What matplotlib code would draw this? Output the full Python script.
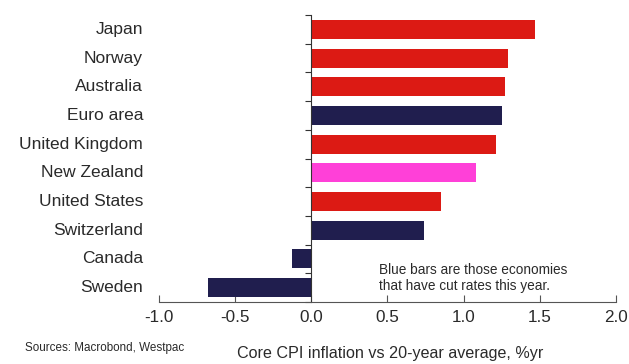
import matplotlib
matplotlib.use('Agg')
import matplotlib.pyplot as plt
import matplotlib.transforms as mtransforms
import numpy as np

plt.rcParams['font.family'] = ['Liberation Sans', 'DejaVu Sans']

countries = ['Japan', 'Norway', 'Australia', 'Euro area', 'United Kingdom',
             'New Zealand', 'United States', 'Switzerland', 'Canada', 'Sweden']
values = [1.47, 1.29, 1.27, 1.25, 1.21, 1.08, 0.85, 0.74, -0.13, -0.68]
groups = ['hike', 'hike', 'hike', 'cut', 'hike', 'nz', 'hike', 'cut', 'cut', 'cut']
colours = {'hike': '#DC1A14', 'cut': '#201E4E', 'nz': '#FF40D8'}

fig = plt.figure(figsize=(6.29, 3.64), dpi=100)
ax = fig.add_axes([0.2528, 0.1703, 0.7265, 0.7885])

y = np.arange(len(countries))
ax.barh(y, values, height=0.66, color=[colours[g] for g in groups], zorder=2)
ax.set_ylim(len(countries) - 0.5, -0.5)
ax.set_xlim(-1.0, 2.0)

# y axis sits at zero, ticks between the bars
for s in ['top', 'right']:
    ax.spines[s].set_visible(False)
ax.spines['left'].set_position(('data', 0))
ax.spines['left'].set_color('#333333')
ax.spines['bottom'].set_color('#555555')
ax.set_yticks(np.arange(len(countries) + 1) - 0.5)
ax.set_yticklabels([])
ax.tick_params(axis='y', direction='out', length=4, color='#333333')

ax.set_xticks(np.arange(-1.0, 2.01, 0.5))
ax.set_xticklabels(['%.1f' % v for v in np.arange(-1.0, 2.01, 0.5)])
ax.tick_params(axis='x', direction='in', length=5, labelsize=12.3,
               color='#555555', labelcolor='#2a2a2a', pad=6)

trans = mtransforms.blended_transform_factory(ax.transAxes, ax.transData)
for i, name in enumerate(countries):
    ax.text(-0.035, i, name, transform=trans, ha='right', va='center',
            fontsize=12.5, color='#2a2a2a')

ax.text(0.482, 0.085, 'Blue bars are those economies\nthat have cut rates this year.',
        transform=ax.transAxes, fontsize=9.8, color='#2a2a2a', va='center',
        linespacing=1.2)

fig.text(0.62, 0.03, 'Core CPI inflation vs 20-year average, %yr',
         ha='center', va='center', fontsize=11.6, color='#2a2a2a')
fig.text(0.04, 0.045, 'Sources: Macrobond, Westpac', fontsize=8.4,
         color='#2a2a2a', va='center')

fig.savefig('out.png', dpi=100)
